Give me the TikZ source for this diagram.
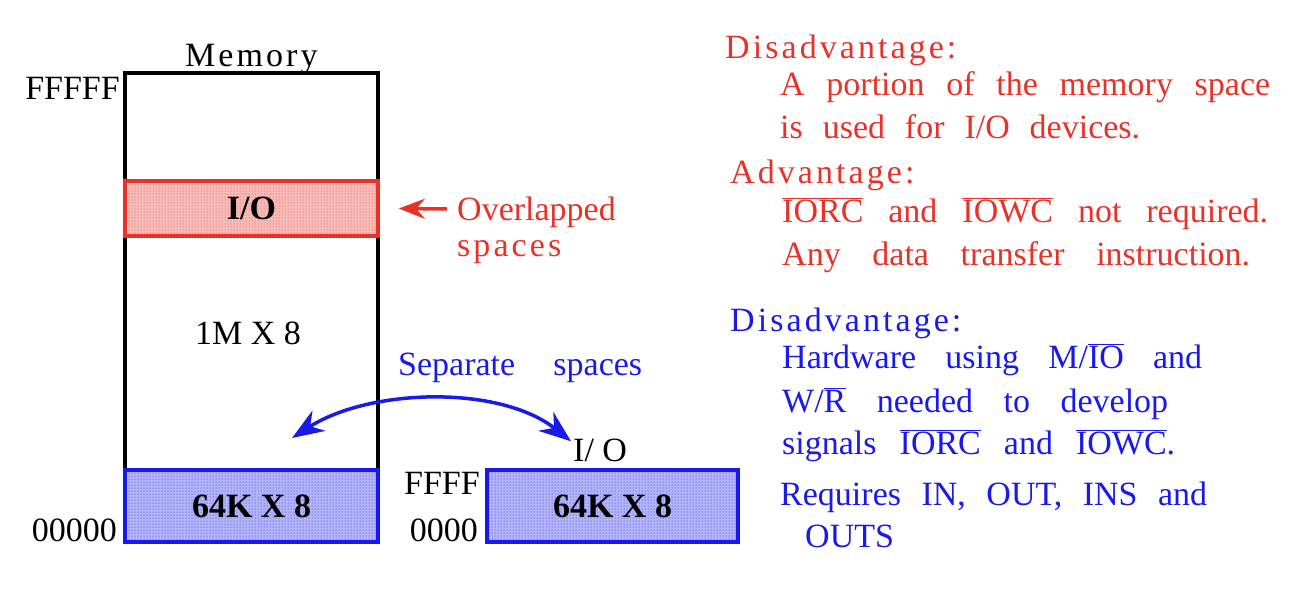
\documentclass[tikz,border=0pt]{standalone}
\usepackage{fontspec}
\setmainfont{Liberation Serif}
\newfontfamily\widefont[LetterSpace=9]{Liberation Serif}
\usetikzlibrary{arrows.meta, patterns, positioning}
\definecolor{slidered}{RGB}{232,50,40}
\definecolor{slideblue}{RGB}{25,25,235}
\newcommand{\ovl}[1]{$\overline{\mbox{#1}}$}
\newcommand{\wline}[2]{\makebox[#1pt][s]{#2}}

\begin{document}
\begin{tikzpicture}[x=1pt, y=-1pt, font=\fontsize{34}{42}\selectfont,
    txt/.style={inner sep=0pt, anchor=base west},
    rtxt/.style={inner sep=0pt, anchor=base east},
    band/.style={draw=#1, line width=3.5pt, fill=#1!32, minimum width=253pt,
      postaction={pattern=dots, pattern color=#1}, font=\fontsize{34}{42}\selectfont\bfseries},
    onearrow/.style={-{Stealth[length=26pt, width=20pt]}},
    twoarrow/.style={{Stealth[length=32pt, width=24pt]}-{Stealth[length=32pt, width=24pt]}}]
  \useasboundingbox (0,0) rectangle (1304,590);

  \node[draw, line width=3.5pt, minimum width=253pt, minimum height=469pt] (mem) at (251.5,307.5) {};
  \node[band=slidered, minimum height=55pt] (io) at (251.5,208.5) {I/O};
  \node[band=slideblue, minimum height=72pt] (low) at (251.5,506) {64K X 8};
  \node[band=slideblue, minimum width=251pt, minimum height=72pt] (port) at (612.5,506) {64K X 8};

  \node[txt, font=\fontsize{34}{42}\selectfont\widefont] (memlbl) at (185,66) {Memory};
  \node[rtxt] (top) at (120,99) {FFFFF};
  \node[rtxt] (bot) at (117,541) {00000};
  \node[txt] (size) at (195,344) {1M X 8};
  \node[rtxt] (ptop) at (480,494) {FFFF};
  \node[rtxt] (pbot) at (478,541) {0000};
  \node[txt] (iolbl) at (573,461) {I/ O};

  % overlapped I/O
  \node[txt, text=slidered] (ovl) at (457,220) {Overlapped};
  \node[txt, text=slidered, font=\fontsize{34}{42}\selectfont\widefont] (ovl2) at (457,256) {spaces};
  \draw[slidered, line width=3.5pt, onearrow] ([xshift=-10pt, yshift=11pt]ovl.base west) -- ([xshift=19pt]io.east);

  % separate I/O
  \node[txt, text=slideblue] (sep) at (398,375) {\wline{244}{Separate spaces}};
  \coordinate (memin) at (292,438);
  \draw[slideblue, line width=3.5pt, twoarrow] (memin) .. controls (370,388) and (500,385) .. ([xshift=-2pt, yshift=-3pt]iolbl.north west);

  % memory-mapped I/O
  \begin{scope}[text=slidered]
    \node[txt, font=\fontsize{34}{42}\selectfont\widefont] (mdis) at (725,58) {Disadvantage:};
    \node[txt] (mdis1) at (780,95) {\wline{490}{A portion of the memory space}};
    \node[txt] (mdis2) at (780,138) {\wline{360}{is used for I/O devices.}};
    \node[txt, font=\fontsize{34}{42}\selectfont\widefont] (madv) at (730,183) {Advantage:};
    \node[txt] (madv1) at (782,222) {\wline{486}{\ovl{IORC} and \ovl{IOWC} not required.}};
    \node[txt] (madv2) at (782,265) {\wline{468}{Any data transfer instruction.}};
  \end{scope}

  % isolated I/O
  \begin{scope}[text=slideblue]
    \node[txt, font=\fontsize{34}{42}\selectfont\widefont] (idis) at (730,331) {Disadvantage:};
    \node[txt] (idis1) at (782,368) {\wline{420}{Hardware using M/\ovl{IO} and}};
    \node[txt] (idis2) at (782,412) {\wline{386}{W/\ovl{R} needed to develop}};
    \node[txt] (idis3) at (782,454) {\wline{393}{signals \ovl{IORC} and \ovl{IOWC}.}};
    \node[txt] (ireq1) at (780,505) {\wline{427}{Requires IN, OUT, INS and}};
    \node[txt] (ireq2) at (805,547) {OUTS};
  \end{scope}
\end{tikzpicture}
\end{document}
